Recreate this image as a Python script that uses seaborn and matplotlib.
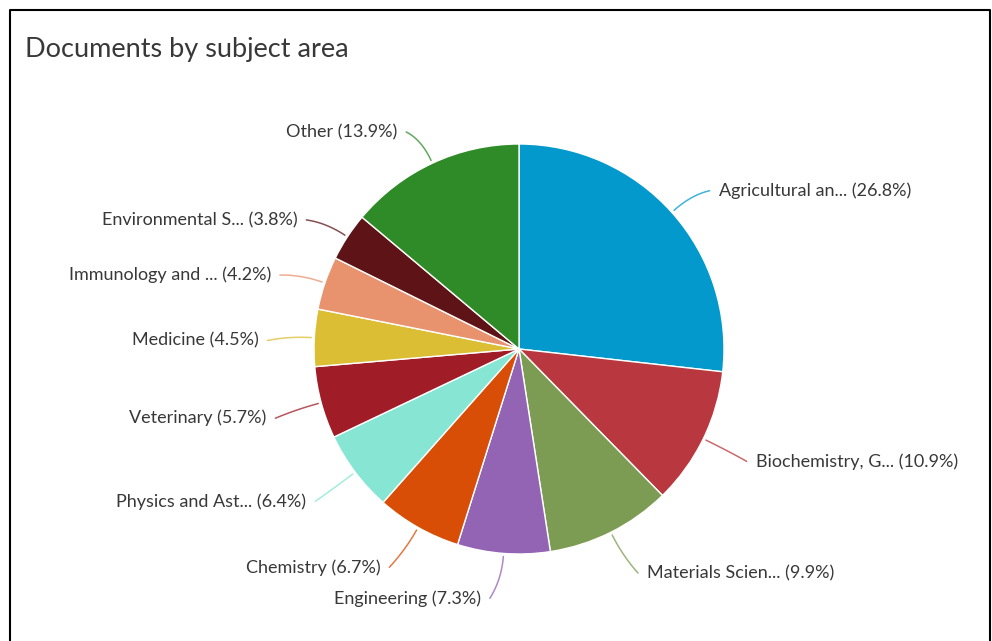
import numpy as np
import matplotlib
matplotlib.use("Agg")
import matplotlib.pyplot as plt
import seaborn as sns

sns.set_theme(style="white")
plt.rcParams['font.family'] = ['Lato', 'DejaVu Sans']

# ------------------- DATA -------------------
subjects = ["Agricultural an...", "Biochemistry, G...", "Materials Scien...", "Engineering",
            "Chemistry", "Physics and Ast...", "Veterinary", "Medicine",
            "Immunology and ...", "Environmental S...", "Other"]
shares = [26.8, 10.9, 9.9, 7.3, 6.7, 6.4, 5.7, 4.5, 4.2, 3.8, 13.9]
colors = ["#0399CC", "#B9383F", "#7C9C54", "#9363B4", "#D94E06", "#86E6D3",
          "#A01D27", "#DBBE33", "#E8926E", "#5E1417", "#2E8B27"]

W, H = 992, 641
cx, cy, r = 519, H - 349, 205

fig = plt.figure(figsize=(W / 100, H / 100), dpi=100)
ax = fig.add_axes([0, 0, 1, 1])

wedges, _ = ax.pie(shares, colors=colors, startangle=90, counterclock=False,
                   center=(cx, cy), radius=r,
                   wedgeprops=dict(edgecolor="white", linewidth=1.0))
ax.set_xlim(0, W)
ax.set_ylim(0, H)
ax.set_aspect("equal")
ax.axis("off")

# labels with connectors (soft bend towards the label)
total = sum(shares)
cum = 0
for name, val, col in zip(subjects, shares, colors):
    mid = (cum + val / 2) / total * 2 * np.pi
    cum += val
    s, c = np.sin(mid), np.cos(mid)
    side = 1 if s > 0 else -1
    tx = cx + (r + 56) * s + side * 20 * (1 - abs(s))
    ty = cy + (r + 40) * c - 5
    t = np.linspace(0, 1, 20)
    px0, py0 = cx + (r + 3) * s, cy + (r + 3) * c
    pxm, pym = cx + (r + 26) * s, cy + (r + 26) * c
    px1, py1 = tx - side * 9, ty
    bx = (1 - t) ** 2 * px0 + 2 * (1 - t) * t * pxm + t ** 2 * px1
    by = (1 - t) ** 2 * py0 + 2 * (1 - t) * t * pym + t ** 2 * py1
    ax.plot(bx, by, color=col, lw=1.1, alpha=0.75, solid_capstyle="round")
    ha = "left" if side > 0 else "right"
    ax.text(tx, ty, f"{name} ({val}%)", ha=ha, va="center", fontsize=13, color="#383838")

# title
ax.text(25, H - 49, "Documents by subject area", ha="left", va="center",
        fontsize=19.5, color="#383838")

# frame
ax.plot([10, 10, 990, 990], [0, H - 10, H - 10, 0], color="black", lw=1.5)

fig.savefig("out.png", dpi=100)
